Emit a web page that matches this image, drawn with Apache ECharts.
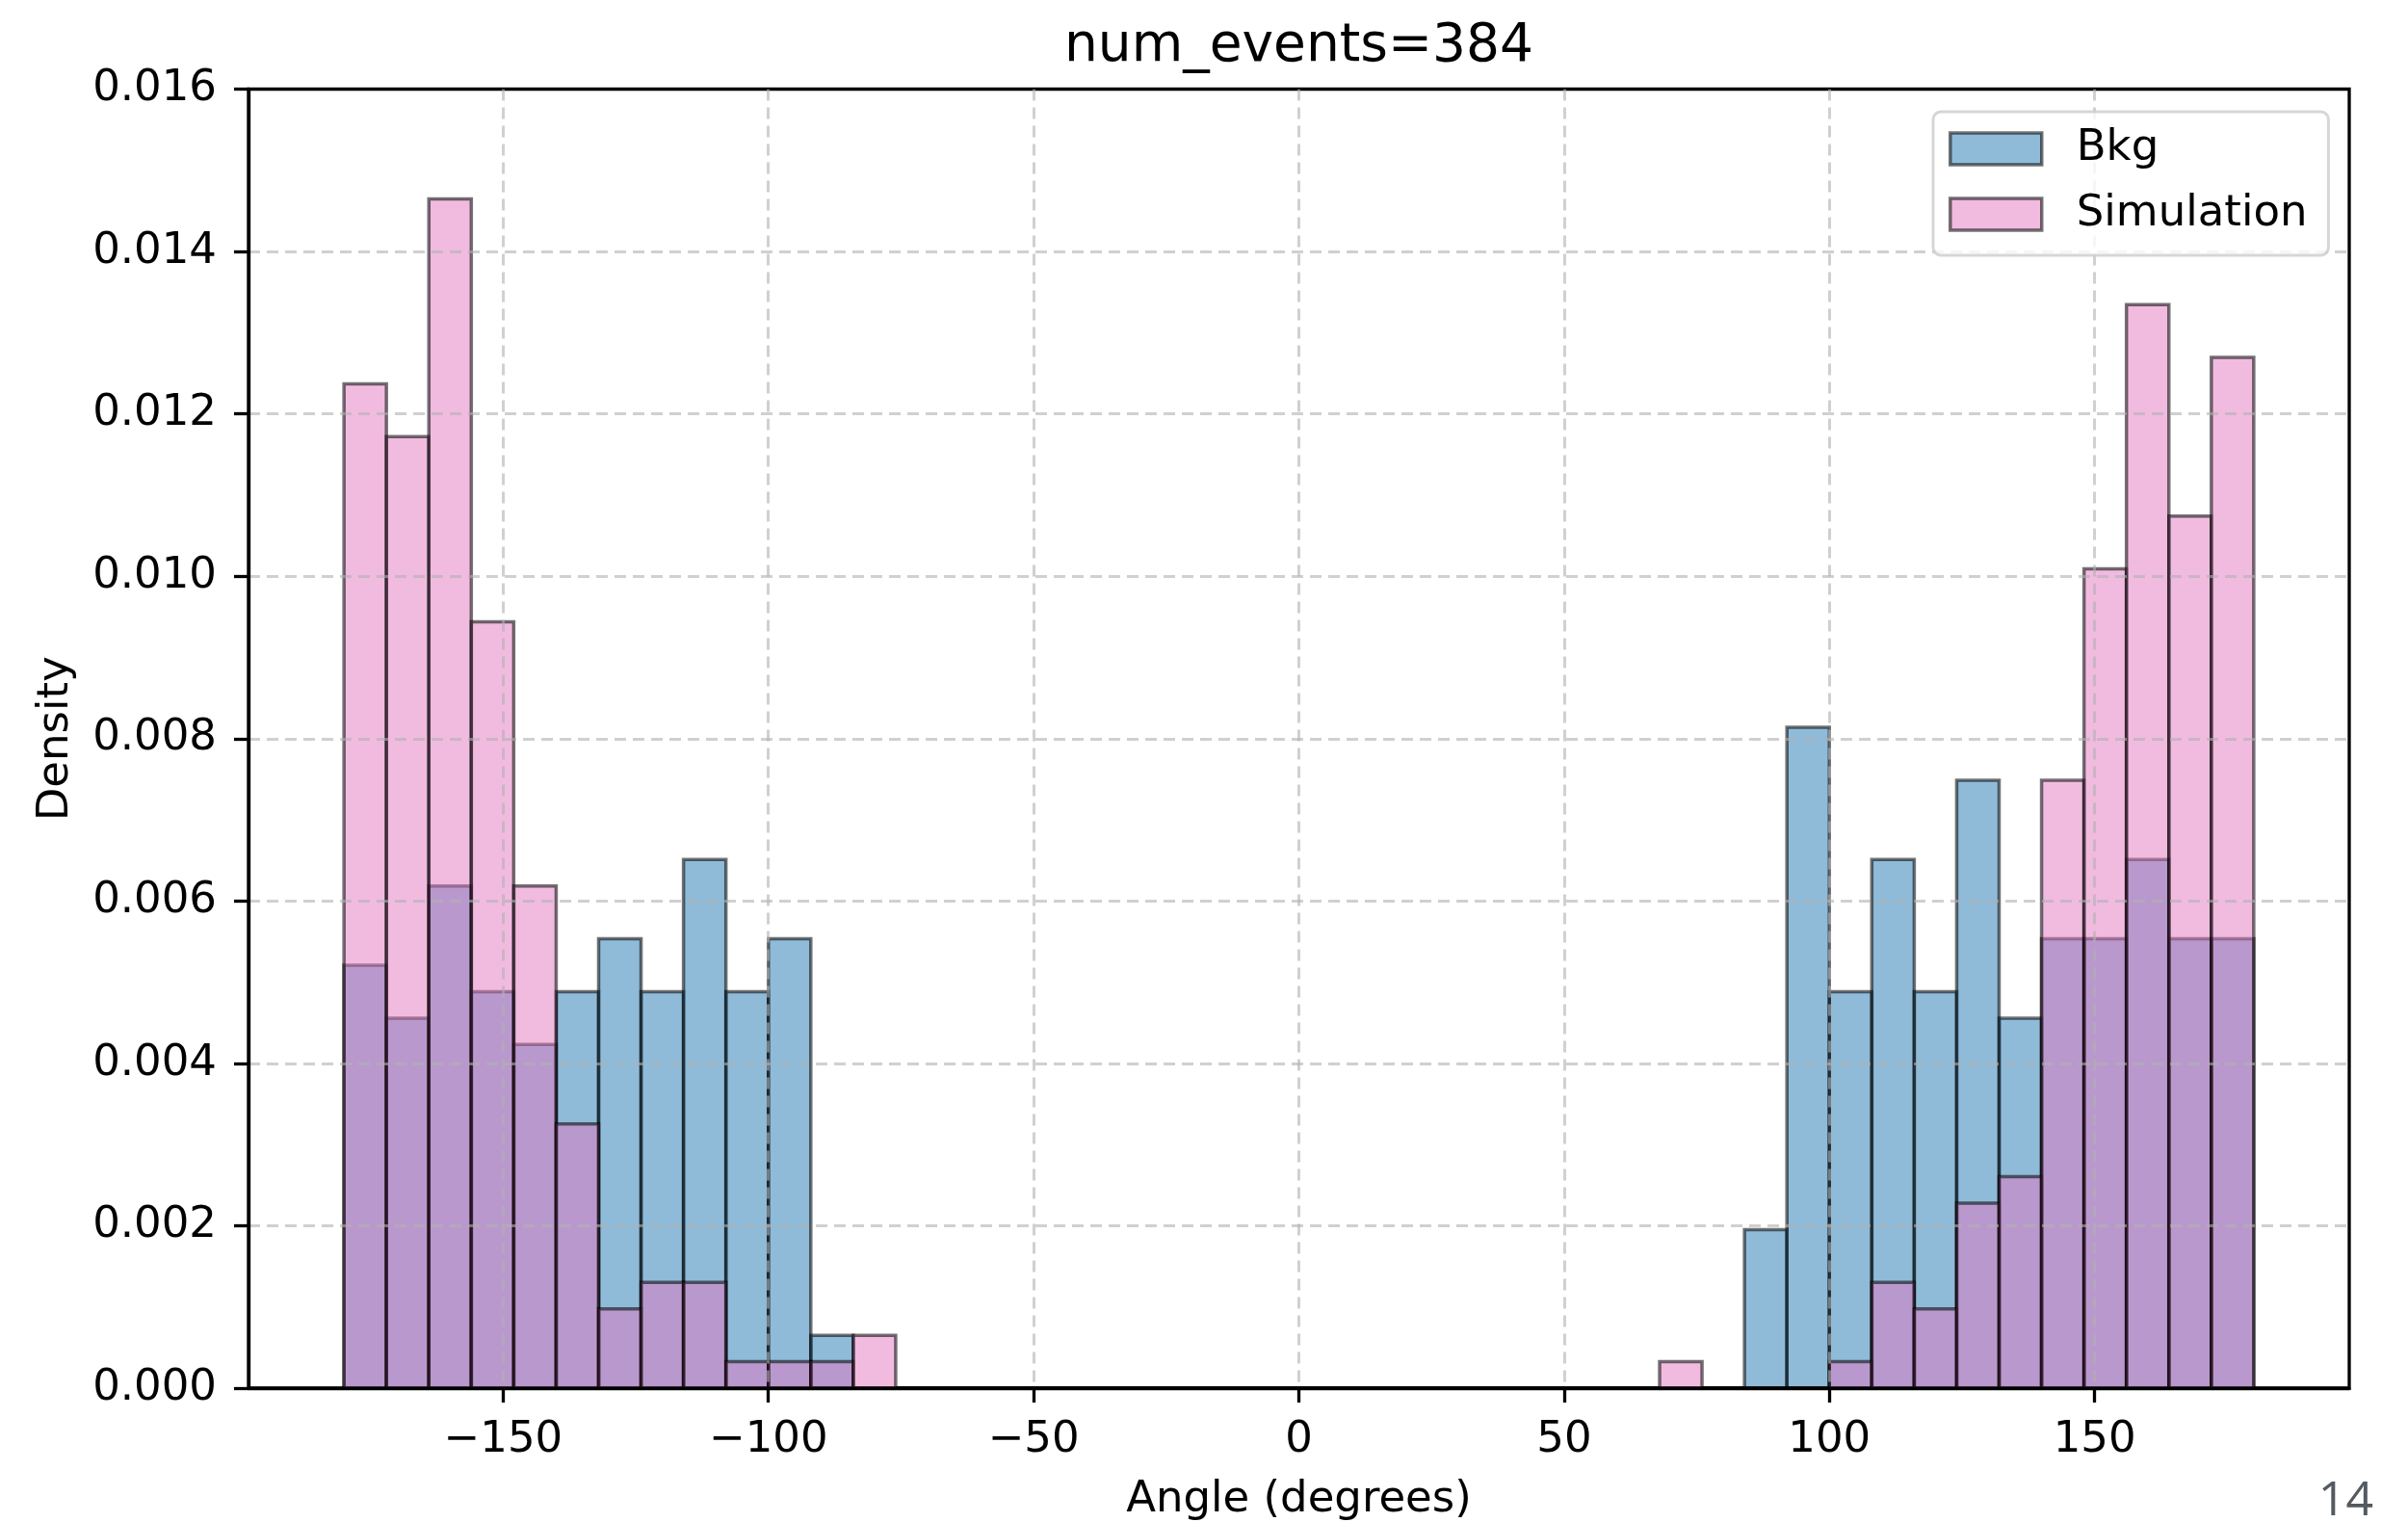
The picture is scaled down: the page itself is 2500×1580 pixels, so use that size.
<!DOCTYPE html>
<html>
<head>
<meta charset="utf-8">
<title>num_events=384</title>
<script src="https://cdn.jsdelivr.net/npm/echarts@6/dist/echarts.min.js"></script>
<style>
  html, body { margin: 0; padding: 0; background: #ffffff; overflow: hidden; }
  #chart { width: 2500px; height: 1580px; }
</style>
</head>
<body>
<div id="chart"></div>
<script>
// Histogram bin edges (degrees), 45 bins of 8 degrees
const binEdges = [
  -180, -172, -164, -156, -148, -140, -132, -124, -116, -108, -100, -92, -84, -76,
  -68, -60, -52, -44, -36, -28, -20, -12, -4, 4, 12, 20, 28, 36, 44, 52, 60, 68,
  76, 84, 92, 100, 108, 116, 124, 132, 140, 148, 156, 164, 172, 180
];

// Density per bin: background sample
const bkgDensity = [
  0.00520833, 0.00455729, 0.00618490, 0.00488281, 0.00423177, 0.00488281,
  0.00553385, 0.00488281, 0.00651042, 0.00488281, 0.00553385, 0.00065104,
  0, 0, 0, 0, 0, 0, 0, 0, 0, 0, 0, 0, 0, 0, 0, 0, 0, 0, 0,
  0, 0, 0.00195313, 0.00813802, 0.00488281, 0.00651042, 0.00488281,
  0.00748698, 0.00455729, 0.00553385, 0.00553385, 0.00651042, 0.00553385,
  0.00553385
];

// Density per bin: simulated sample
const simDensity = [
  0.01236979, 0.01171875, 0.01464844, 0.00944010, 0.00618490, 0.00325521,
  0.00097656, 0.00130208, 0.00130208, 0.00032552, 0.00032552, 0.00032552,
  0.00065104, 0, 0, 0, 0, 0, 0, 0, 0, 0, 0, 0, 0, 0, 0, 0, 0, 0, 0,
  0.00032552, 0, 0, 0, 0.00032552, 0.00130208, 0.00097656, 0.00227865,
  0.00260417, 0.00748698, 0.01009115, 0.01334635, 0.01074219, 0.01269531
];

const xTicks = [-150, -100, -50, 0, 50, 100, 150];

const FONT = 'DejaVu Sans';
const EDGE = 'rgba(0,0,0,0.55)';
const BKG_FILL = 'rgba(31,119,180,0.5)';
const SIM_FILL = 'rgba(227,119,194,0.5)';
const GRID_LINE = { color: 'rgba(176,176,176,0.6)', width: 3, type: [12, 7] };

function toBins(values) {
  return values.map((v, i) => [binEdges[i], binEdges[i + 1], v]);
}

function barRenderer(fill) {
  return function (params, api) {
    const topLeft = api.coord([api.value(0), api.value(2)]);
    const bottomRight = api.coord([api.value(1), 0]);
    return {
      type: 'rect',
      shape: {
        x: topLeft[0],
        y: topLeft[1],
        width: bottomRight[0] - topLeft[0],
        height: bottomRight[1] - topLeft[1]
      },
      style: { fill: fill, stroke: EDGE, lineWidth: 3.5 }
    };
  };
}

const chart = echarts.init(document.getElementById('chart'), null, { renderer: 'canvas' });

chart.setOption({
  backgroundColor: '#ffffff',
  animation: false,
  grid: {
    left: 258, right: 61, top: 92.5, bottom: 139,
    containLabel: false,
    outerBoundsMode: 'none',
    show: true, borderColor: '#000000', borderWidth: 3.3,
    backgroundColor: 'transparent'
  },
  legend: {
    orient: 'vertical',
    left: 2007, top: 116,
    z: 10,
    itemWidth: 95, itemHeight: 33, itemGap: 23,
    padding: [16, 22, 20, 16],
    backgroundColor: 'rgba(255,255,255,0.8)',
    borderColor: 'rgba(204,204,204,0.8)',
    borderWidth: 3,
    borderRadius: 8,
    textStyle: { fontFamily: FONT, fontSize: 45, color: '#000', padding: [0, 0, 0, 31] },
    data: [
      { name: 'Bkg', icon: 'rect', itemStyle: { color: BKG_FILL, borderColor: EDGE, borderWidth: 3.5 } },
      { name: 'Simulation', icon: 'rect', itemStyle: { color: SIM_FILL, borderColor: EDGE, borderWidth: 3.5 } }
    ]
  },
  xAxis: {
    type: 'value',
    min: -198, max: 198,
    z: 5,
    axisLine: { show: true, onZero: false, lineStyle: { color: '#000', width: 3.3 } },
    axisTick: { show: true, inside: false, length: 15, customValues: xTicks, lineStyle: { color: '#000', width: 3.3 } },
    axisLabel: {
      customValues: xTicks,
      margin: 32,
      fontFamily: FONT, fontSize: 45, color: '#000',
      formatter: v => (v < 0 ? '\u2212' + Math.abs(v) : String(v))
    },
    splitLine: { show: true, lineStyle: GRID_LINE },
    name: 'Angle (degrees)',
    nameLocation: 'middle',
    nameGap: 94,
    nameTextStyle: { fontFamily: FONT, fontSize: 45, color: '#000' }
  },
  yAxis: {
    type: 'value',
    min: 0, max: 0.016, interval: 0.002,
    z: 5,
    axisLine: { show: true, onZero: false, lineStyle: { color: '#000', width: 3.3 } },
    axisTick: { show: true, inside: false, length: 15, lineStyle: { color: '#000', width: 3.3 } },
    axisLabel: {
      margin: 33,
      fontFamily: FONT, fontSize: 45, color: '#000',
      formatter: v => v.toFixed(3)
    },
    splitLine: { show: true, showMinLine: false, showMaxLine: false, lineStyle: GRID_LINE },
    name: 'Density',
    nameLocation: 'middle',
    nameGap: 177,
    nameTextStyle: { fontFamily: FONT, fontSize: 45, color: '#000' }
  },
  graphic: [
    {
      type: 'text', x: 1348.5, y: 21, z: 20,
      style: { text: 'num_events=384', fontFamily: FONT, fontSize: 55, fill: '#000', align: 'center', verticalAlign: 'top' }
    },
    {
      type: 'text', x: 2464, y: 1559, z: 20,
      style: { text: '14', fontFamily: 'Open Sans', fontSize: 50, fill: '#545a61', align: 'right', verticalAlign: 'middle' }
    }
  ],
  series: [
    {
      type: 'custom', name: 'Bkg',
      renderItem: barRenderer(BKG_FILL),
      itemStyle: { color: BKG_FILL, borderColor: EDGE, borderWidth: 3.5 },
      encode: { x: [0, 1], y: 2 },
      data: toBins(bkgDensity),
      z: 2
    },
    {
      type: 'custom', name: 'Simulation',
      renderItem: barRenderer(SIM_FILL),
      itemStyle: { color: SIM_FILL, borderColor: EDGE, borderWidth: 3.5 },
      encode: { x: [0, 1], y: 2 },
      data: toBins(simDensity),
      z: 3
    }
  ]
});
</script>
</body>
</html>
